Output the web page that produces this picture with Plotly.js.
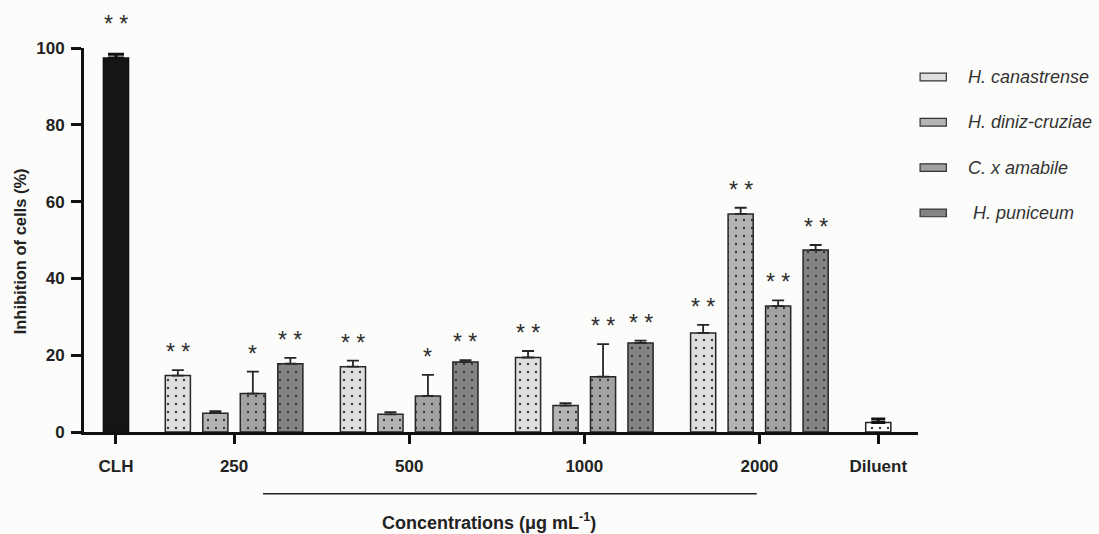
<!DOCTYPE html>
<html>
<head>
<meta charset="utf-8">
<script src="https://cdn.plot.ly/plotly-3.0.1.min.js"></script>
<style>html,body{margin:0;padding:0;background:#fcfcfa;}#chart{width:1099px;height:534px;}</style>
</head>
<body>
<div id="chart"></div>
<script>
// ---- data ----
const concentrations = ["250", "500", "1000", "2000"];
const seriesNames = ["H. canastrense", "H. diniz-cruziae", "C. x amabile", " H. puniceum"];
const hCanastrense = [14.7, 17.0, 19.4, 25.8];
const hCanastrenseErr = [1.4, 1.6, 1.7, 2.1];
const hDinizCruziae = [4.9, 4.6, 6.9, 56.8];
const hDinizCruziaeErr = [0.5, 0.6, 0.6, 1.6];
const cAmabile = [10.0, 9.4, 14.4, 32.8];
const cAmabileErr = [5.7, 5.5, 8.5, 1.5];
const hPuniceum = [17.8, 18.2, 23.2, 47.4];
const hPuniceumErr = [1.5, 0.5, 0.6, 1.3];
const hCanastrenseSig = ["**", "**", "**", "**"];
const hDinizCruziaeSig = ["", "", "", "**"];
const cAmabileSig = ["*", "*", "**", "**"];
const hPuniceumSig = ["**", "**", "**", "**"];
const controlLabel = "CLH";
const controlValue = 97.4;
const controlErr = 1.0;
const controlSig = "**";
const diluentLabel = "Diluent";
const diluentValue = 2.5;
const diluentErr = 0.9;
const yTickValues = [0, 20, 40, 60, 80, 100];

// ---- layout helpers (positions in bar-slot units) ----
const FONT = "Arial, 'Liberation Sans', sans-serif";
const fills = ["#dedede", "#b4b4b4", "#a2a2a2", "#848484"];
const values = [hCanastrense, hDinizCruziae, cAmabile, hPuniceum];
const errs = [hCanastrenseErr, hDinizCruziaeErr, cAmabileErr, hPuniceumErr];
const sigs = [hCanastrenseSig, hDinizCruziaeSig, cAmabileSig, hPuniceumSig];
const controlPos = 0;
const firstGroup = 3.15;
const groupStep = 4.67;
const groupCenters = concentrations.map((c, g) => firstGroup + g * groupStep);
const diluentPos = groupCenters[groupCenters.length - 1] + 3.17;
const barW = 0.67;

const traces = [];
const annotations = [];
const starFont = {family: FONT, size: 23, color: "#2e2e2e"};
function star(x, y, text, shift) {
  if (!text) return;
  annotations.push({x: x, y: y, xref: "x", yref: "y", text: text.split("").join(" "),
    showarrow: false, font: starFont, yshift: shift, yanchor: "middle"});
}
const dotPattern = (bg) => ({shape: ".", size: 8, solidity: 0.07, fgcolor: "#3a3a3a", bgcolor: bg, fillmode: "replace"});

// control
traces.push({type: "bar", x: [controlPos], y: [controlValue], width: barW,
  marker: {color: "#151515", line: {color: "#111", width: 1.5}},
  error_y: {type: "data", array: [controlErr], arrayminus: [0], color: "#111", thickness: 3, width: 8},
  showlegend: false, hoverinfo: "y"});
star(controlPos, controlValue + controlErr, controlSig, 30);

values.forEach((vals, i) => {
  const xs = groupCenters.map(c => c + (i - 1.5));
  traces.push({type: "bar", name: seriesNames[i], x: xs, y: vals, width: barW,
    marker: {color: fills[i], line: {color: "#262626", width: 1.5}, pattern: dotPattern(fills[i])},
    error_y: {type: "data", array: errs[i], arrayminus: vals.map(() => 0), color: "#262626", thickness: 1.8, width: 6},
    showlegend: false, hoverinfo: "y"});
  xs.forEach((x, k) => star(x, vals[k] + errs[i][k], sigs[i][k], 18));
});

// diluent
traces.push({type: "bar", x: [diluentPos], y: [diluentValue], width: barW,
  marker: {color: "#ffffff", line: {color: "#222", width: 1.5}, pattern: dotPattern("#ffffff")},
  error_y: {type: "data", array: [diluentErr], arrayminus: [0], color: "#111", thickness: 3, width: 7},
  showlegend: false, hoverinfo: "y"});

// custom legend (flat swatches as in the reference)
const shapes = [];
seriesNames.forEach((n, i) => {
  const yc = 0.9245 - i * 0.118;
  shapes.push({type: "rect", xref: "paper", yref: "paper", x0: 1.0025, x1: 1.034,
    y0: yc - 0.01, y1: yc + 0.01, fillcolor: fills[i], line: {color: "#333", width: 1.2}});
  annotations.push({xref: "paper", yref: "paper", x: 1.058, y: yc, text: "<i>" + n.replace(/ /g, "&nbsp;") + "</i>",
    showarrow: false, xanchor: "left", yanchor: "middle", font: {family: FONT, size: 18, color: "#333"}});
});

// bracket under concentration labels
shapes.push({type: "line", xref: "x", yref: "paper", x0: 3.92, x1: 17.09, y0: -0.161, y1: -0.161,
  line: {color: "#222", width: 1.5}});

// axis titles
annotations.push({xref: "x", yref: "paper", x: 9.95, y: -0.232, text: "<b>Concentrations (μg mL<sup>-1</sup>)</b>",
  showarrow: false, xanchor: "center", yanchor: "middle", font: {family: FONT, size: 18, color: "#222"}});
annotations.push({xref: "paper", yref: "paper", x: -0.077, y: 0.47, text: "<b>Inhibition of cells (%)</b>",
  textangle: -90, showarrow: false, xanchor: "center", yanchor: "middle", font: {family: FONT, size: 16.5, color: "#222"}});

const tickVals = [controlPos].concat(groupCenters, [diluentPos]);
const tickText = [controlLabel].concat(concentrations, [diluentLabel]);

const layout = {
  width: 1099, height: 534,
  margin: {l: 84, r: 181, t: 48, b: 102},
  paper_bgcolor: "#fcfcfa", plot_bgcolor: "#fcfcfa",
  showlegend: false,
  xaxis: {range: [-0.853, 21.39], tickvals: tickVals, ticktext: tickText, ticks: "outside",
    ticklen: 9, tickwidth: 3, tickcolor: "#111", showline: true, linecolor: "#111", linewidth: 3,
    showgrid: false, zeroline: false, tickfont: {family: FONT, size: 17, color: "#222", weight: "bold"},
    ticklabelstandoff: 8},
  yaxis: {range: [0, 100], tickvals: yTickValues, ticks: "outside", ticklen: 10, tickwidth: 3,
    tickcolor: "#111", showline: true, linecolor: "#111", linewidth: 3, showgrid: false, zeroline: false,
    tickfont: {family: FONT, size: 17, color: "#222", weight: "bold"}, ticklabelstandoff: 3},
  bargap: 0, shapes: shapes, annotations: annotations
};

Plotly.newPlot("chart", traces, layout, {displayModeBar: false, staticPlot: true});
</script>
</body>
</html>
